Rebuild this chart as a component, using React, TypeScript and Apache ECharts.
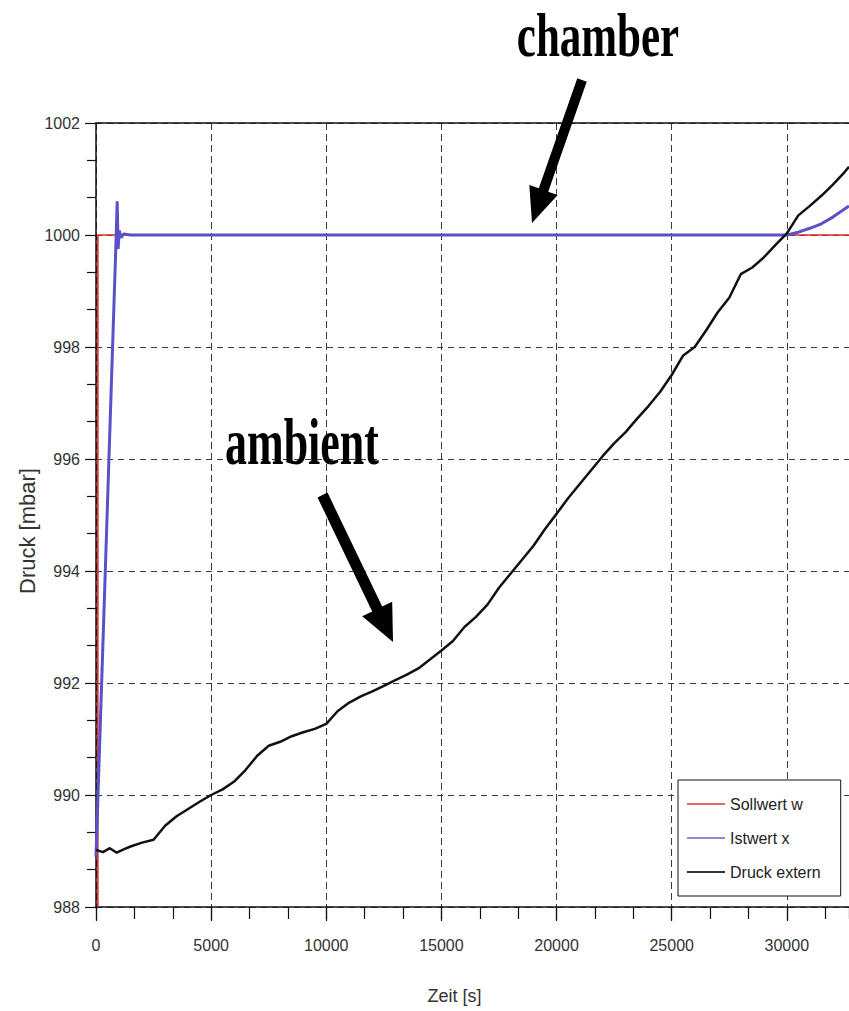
import React, { useEffect, useRef } from "react";
import * as echarts from "echarts";

// ---- axes ----
const X_MIN = 0;
const X_MAX = 32700;
const X_STEP = 5000;
const Y_MIN = 988;
const Y_MAX = 1002;
const Y_STEP = 2;
const X_NAME = "Zeit [s]";
const Y_NAME = "Druck [mbar]";
const seriesNames = ["Sollwert w", "Istwert x", "Druck extern"];

// ---- Sollwert w (setpoint) ----
const sollTime = [80, 80, 32700];
const sollValue = [988, 1000, 1000];

// ---- Istwert x (chamber pressure) ----
const istTime = [0, 870, 920, 960, 1010, 1080, 1200, 1500, 5000, 10000, 15000, 20000, 25000, 29500, 30000, 30500, 31000, 31500, 32000, 32700];
const istValue = [988.9, 999.9, 1000.6, 999.75, 1000.08, 999.95, 1000.02, 1000, 1000, 1000, 1000, 1000, 1000, 1000, 1000.0, 1000.05, 1000.12, 1000.2, 1000.32, 1000.52];

// ---- Druck extern (ambient pressure) ----
const extTime = [0, 300, 600, 900, 1200, 1500, 2000, 2500, 3000, 3500, 4000, 4500, 5000, 5500, 6000, 6500, 7000, 7500, 8000, 8500, 9000, 9500, 10000, 10500, 11000, 11500, 12000, 12500, 13000, 13500, 14000, 14500, 15000, 15500, 16000, 16500, 17000, 17500, 18000, 18500, 19000, 19500, 20000, 20500, 21000, 21500, 22000, 22500, 23000, 23500, 24000, 24500, 25000, 25500, 26000, 26500, 27000, 27500, 28000, 28500, 29000, 29500, 30000, 30500, 31000, 31500, 32000, 32500, 32700];
const extValue = [989.02, 988.98, 989.05, 988.97, 989.03, 989.08, 989.15, 989.2, 989.45, 989.62, 989.75, 989.88, 990.0, 990.1, 990.24, 990.45, 990.7, 990.88, 990.95, 991.05, 991.12, 991.18, 991.27, 991.5, 991.65, 991.76, 991.85, 991.95, 992.05, 992.15, 992.26, 992.42, 992.58, 992.75, 993.0, 993.18, 993.4, 993.7, 993.95, 994.2, 994.45, 994.75, 995.02, 995.3, 995.55, 995.8, 996.05, 996.28, 996.48, 996.72, 996.95, 997.2, 997.5, 997.85, 998.0, 998.3, 998.62, 998.88, 999.3, 999.42, 999.6, 999.82, 1000.03, 1000.35, 1000.52, 1000.7, 1000.9, 1001.12, 1001.22];

const pairs = (xs: number[], ys: number[]) => xs.map((x, i) => [x, ys[i]]);

const SANS = "'Liberation Sans', Arial, sans-serif";
const SERIF = "'Liberation Serif', 'DejaVu Serif', serif";

export default function App() {
  const ref = useRef<HTMLDivElement>(null);
  useEffect(() => {
    if (!ref.current) return;
    const chart = echarts.init(ref.current, undefined, { renderer: "svg" });
    const gridLine = (dash: number[]) => ({ show: true, lineStyle: { color: "#3a3a3a", width: 1, type: dash } });
    const plain = (v: number) => String(v);
    chart.setOption({
      animation: false,
      backgroundColor: "#ffffff",
      grid: { left: 96, top: 123, right: 0, bottom: 104, containLabel: false, outerBoundsMode: "none" },
      legend: {
        orient: "vertical",
        left: 678,
        top: 780,
        padding: [14, 20, 14, 9],
        itemGap: 14,
        itemWidth: 38,
        itemHeight: 2,
        icon: "rect",
        backgroundColor: "#ffffff",
        borderColor: "#111",
        borderWidth: 1,
        borderRadius: 0,
        textStyle: { fontFamily: SANS, fontSize: 16, color: "#222", lineHeight: 20 },
        data: [
          { name: seriesNames[0], itemStyle: { color: "#e66a6a" } },
          { name: seriesNames[1], itemStyle: { color: "#8c8cd0" } },
          { name: seriesNames[2], itemStyle: { color: "#333" } },
        ],
      },
      xAxis: [
        {
          type: "value",
          min: X_MIN,
          max: X_MAX,
          interval: X_STEP,
          position: "bottom",
          name: X_NAME,
          nameLocation: "middle",
          nameGap: 80,
          nameMoveOverlap: false,
          nameTextStyle: { fontFamily: SANS, fontSize: 18, color: "#333", padding: [0, 36, 0, 0] },
          axisLine: { show: true, onZero: false, lineStyle: { color: "#111", width: 1.5 } },
          axisTick: { show: true, length: 14, lineStyle: { color: "#111", width: 1.2 } },
          axisLabel: { show: true, margin: 30, fontFamily: SANS, fontSize: 16, color: "#333", showMaxLabel: false, formatter: plain },
          splitLine: gridLine([7, 4]),
        },
        {
          type: "value",
          min: X_MIN,
          max: X_MAX,
          interval: X_STEP / 3,
          position: "bottom",
          axisLine: { show: false },
          axisTick: { show: true, length: 12, lineStyle: { color: "#111", width: 1.2 } },
          axisLabel: { show: false },
          splitLine: { show: false },
        },
        {
          type: "value",
          min: X_MIN,
          max: X_MAX,
          position: "top",
          axisLine: { show: true, onZero: false, lineStyle: { color: "#111", width: 1.5 } },
          axisTick: { show: false },
          axisLabel: { show: false },
          splitLine: { show: false },
        },
      ],
      yAxis: {
        type: "value",
        min: Y_MIN,
        max: Y_MAX,
        interval: Y_STEP,
        name: Y_NAME,
        nameLocation: "middle",
        nameGap: 58,
        nameMoveOverlap: false,
        nameTextStyle: { fontFamily: SANS, fontSize: 22, color: "#333", padding: [0, 32, 0, 0] },
        axisLine: { show: true, onZero: false, lineStyle: { color: "#111", width: 1.5 } },
        axisTick: { show: true, length: 11, lineStyle: { color: "#111", width: 1.2 } },
        minorTick: { show: true, splitNumber: 3, length: 9, lineStyle: { color: "#111", width: 1.2 } },
        axisLabel: { margin: 16, fontFamily: SANS, fontSize: 16, color: "#333", formatter: plain },
        splitLine: gridLine([6, 5]),
      },
      series: [
        {
          name: seriesNames[0],
          type: "line",
          data: pairs(sollTime, sollValue),
          symbol: "none",
          lineStyle: { color: "#e02828", width: 1.6 },
          itemStyle: { color: "#e02828" },
          z: 2,
        },
        {
          name: seriesNames[1],
          type: "line",
          data: pairs(istTime, istValue),
          symbol: "none",
          lineStyle: { color: "#5a50c8", width: 3 },
          itemStyle: { color: "#5a50c8" },
          z: 3,
        },
        {
          name: seriesNames[2],
          type: "line",
          data: pairs(extTime, extValue),
          symbol: "none",
          lineStyle: { color: "#111111", width: 2.5 },
          itemStyle: { color: "#111111" },
          z: 4,
        },
      ],
      graphic: [
        {
          type: "text",
          x: 598,
          y: 35,
          scaleY: 1.42,
          z: 100,
          style: { text: "chamber", fontFamily: SERIF, fontWeight: "bold", fontSize: 43, lineHeight: 34, fill: "#000", textAlign: "center", textVerticalAlign: "middle" },
        },
        {
          type: "text",
          x: 302,
          y: 442,
          scaleY: 1.5,
          z: 100,
          style: { text: "ambient", fontFamily: SERIF, fontWeight: "bold", fontSize: 44, lineHeight: 34, fill: "#000", textAlign: "center", textVerticalAlign: "middle" },
        },
        {
          type: "polygon",
          z: 100,
          shape: {
            points: [
              [577.3, 78.3], [586.7, 81.7], [548.2, 191.7], [557.7, 195], [532, 223], [529.3, 185], [538.8, 188.3],
            ],
          },
          style: { fill: "#000" },
        },
        {
          type: "polygon",
          z: 100,
          shape: {
            points: [
              [317.5, 497.4], [327.5, 492.6], [382.2, 606.6], [392.2, 601.8], [393, 642], [362.2, 616.2], [372.2, 611.4],
            ],
          },
          style: { fill: "#000" },
        },
      ],
    });
    return () => chart.dispose();
  }, []);
  return <div ref={ref} style={{ position: "absolute", left: 0, top: 0, width: 849, height: 1011 }} />;
}
